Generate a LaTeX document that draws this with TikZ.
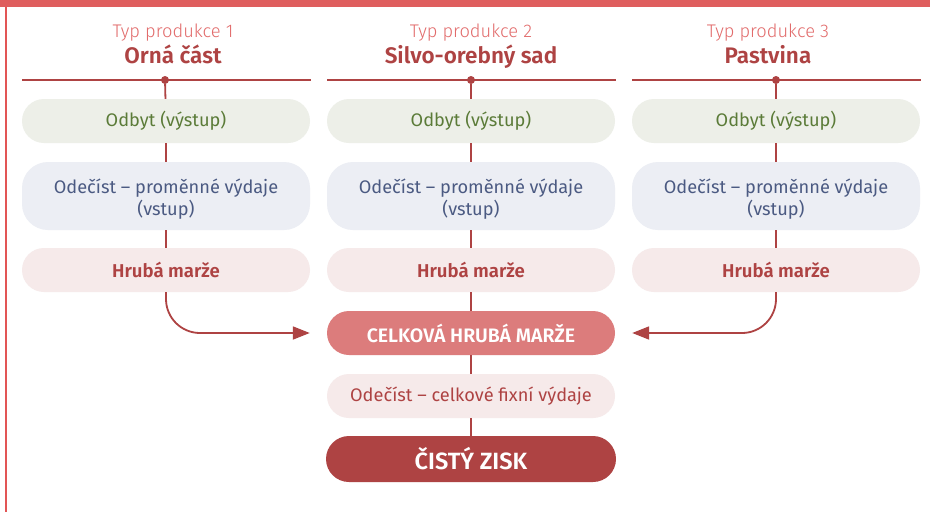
\documentclass[tikz,border=0pt]{standalone}
\usepackage{fontspec}
\setmainfont{Fira Sans}[BoldFont={Fira Sans SemiBold}]
\newfontfamily\typfont{Fira Sans Light}
\usetikzlibrary{arrows.meta}
\definecolor{band}{HTML}{DF5E5E}
\definecolor{lightred}{HTML}{E26B6B}
\definecolor{darkred}{HTML}{AE4343}
\definecolor{greenfill}{HTML}{EDEFE8}
\definecolor{greentext}{HTML}{5B7B38}
\definecolor{bluefill}{HTML}{ECEEF4}
\definecolor{bluetext}{HTML}{4B5A82}
\definecolor{pinkfill}{HTML}{F6EAEA}
\definecolor{midred}{HTML}{DC7C7C}
\newcommand{\topstrut}{\rule{0pt}{20pt}}
\tikzset{
  pill/.style={rounded corners=22pt, minimum width=288pt, minimum height=44pt, inner sep=0pt, align=center, font=\fontsize{18.2}{22}\selectfont},
  gbox/.style={pill, fill=greenfill, text=greentext},
  bbox/.style={pill, fill=bluefill, text=bluetext, minimum height=68pt, rounded corners=26pt},
  pbox/.style={pill, fill=pinkfill, text=darkred, font=\fontsize{18.6}{23}\selectfont\bfseries},
  conn/.style={draw=darkred, line width=1.8pt},
  arr/.style={conn, rounded corners=34pt, -{Triangle[length=17pt,width=13pt]}, shorten >=17pt},
  typ/.style={anchor=base, text=lightred, font=\typfont\fontsize{18.3}{22}\selectfont},
  ttl/.style={anchor=base, text=darkred, font=\fontsize{22.5}{26}\selectfont\bfseries},
  dot/.style={circle, fill=darkred, minimum size=8pt, inner sep=0pt},
}
\begin{document}
\begin{tikzpicture}[x=1pt,y=-1pt]
\useasboundingbox (0,0) rectangle (930,512);
\fill[white] (0,0) rectangle (930,512);
\fill[band] (0,0) rectangle (930,7);
\draw[color=band!90!red, line width=1.4pt] (6,7) -- (6,512);
% titles
\node[typ] (t1) at (173,37) {Typ produkce 1};
\node[ttl] (n1) at (173,63) {Orná část};
\node[typ] (t2) at (471,37) {Typ produkce 2};
\node[ttl] (n2) at (471,63) {Silvo-orebný sad};
\node[typ] (t3) at (768,37) {Typ produkce 3};
\node[ttl] (n3) at (768,63) {Pastvina};
% header lines
\coordinate (l1a) at (22,80); \coordinate (l1b) at (311,80);
\coordinate (l2a) at (327,80); \coordinate (l2b) at (616,80);
\coordinate (l3a) at (632,80); \coordinate (l3b) at (921,80);
\draw[conn] (l1a) -- (l1b);
\draw[conn] (l2a) -- (l2b);
\draw[conn] (l3a) -- (l3b);
\node[dot] (d1) at (165,80) {};
\node[dot] (d2) at (471,80) {};
\node[dot] (d3) at (776,80) {};
% column boxes
\node[gbox] (o1) at (166,121) {Odbyt (výstup)};
\node[gbox] (o2) at (471,121) {Odbyt (výstup)};
\node[gbox] (o3) at (776,121) {Odbyt (výstup)};
\node[bbox] (v1) at (166,196) {\topstrut Odečíst – proměnné výdaje\\(vstup)};
\node[bbox] (v2) at (471,196) {\topstrut Odečíst – proměnné výdaje\\(vstup)};
\node[bbox] (v3) at (776,196) {\topstrut Odečíst – proměnné výdaje\\(vstup)};
\node[pbox] (h1) at (166,270) {Hrubá marže};
\node[pbox] (h2) at (471,270) {Hrubá marže};
\node[pbox] (h3) at (776,270) {Hrubá marže};
% totals
\node[pill, fill=midred, text=white, font=\fontsize{19.5}{23}\selectfont\bfseries] (celk) at (471,333) {CELKOVÁ HRUBÁ MARŽE};
\node[pill, fill=pinkfill, text=darkred] (fix) at (471,396) {Odečíst – celkové fixní výdaje};
\node[pill, fill=darkred, text=white, minimum width=290pt, minimum height=46pt, rounded corners=23pt, font=\fontsize{23.5}{27}\selectfont\bfseries] (zisk) at (471,459) {ČISTÝ ZISK};
% connectors
\draw[conn] (d1) -- (o1); \draw[conn] (o1) -- (v1); \draw[conn] (v1) -- (h1);
\draw[conn] (d2) -- (o2); \draw[conn] (o2) -- (v2); \draw[conn] (v2) -- (h2);
\draw[conn] (d3) -- (o3); \draw[conn] (o3) -- (v3); \draw[conn] (v3) -- (h3);
\draw[conn] (h2) -- (celk); \draw[conn] (celk) -- (fix); \draw[conn] (fix) -- (zisk);
\draw[arr] (h1.south) |- (celk.west);
\draw[arr] (h3.south) |- (celk.east);
\end{tikzpicture}
\end{document}
